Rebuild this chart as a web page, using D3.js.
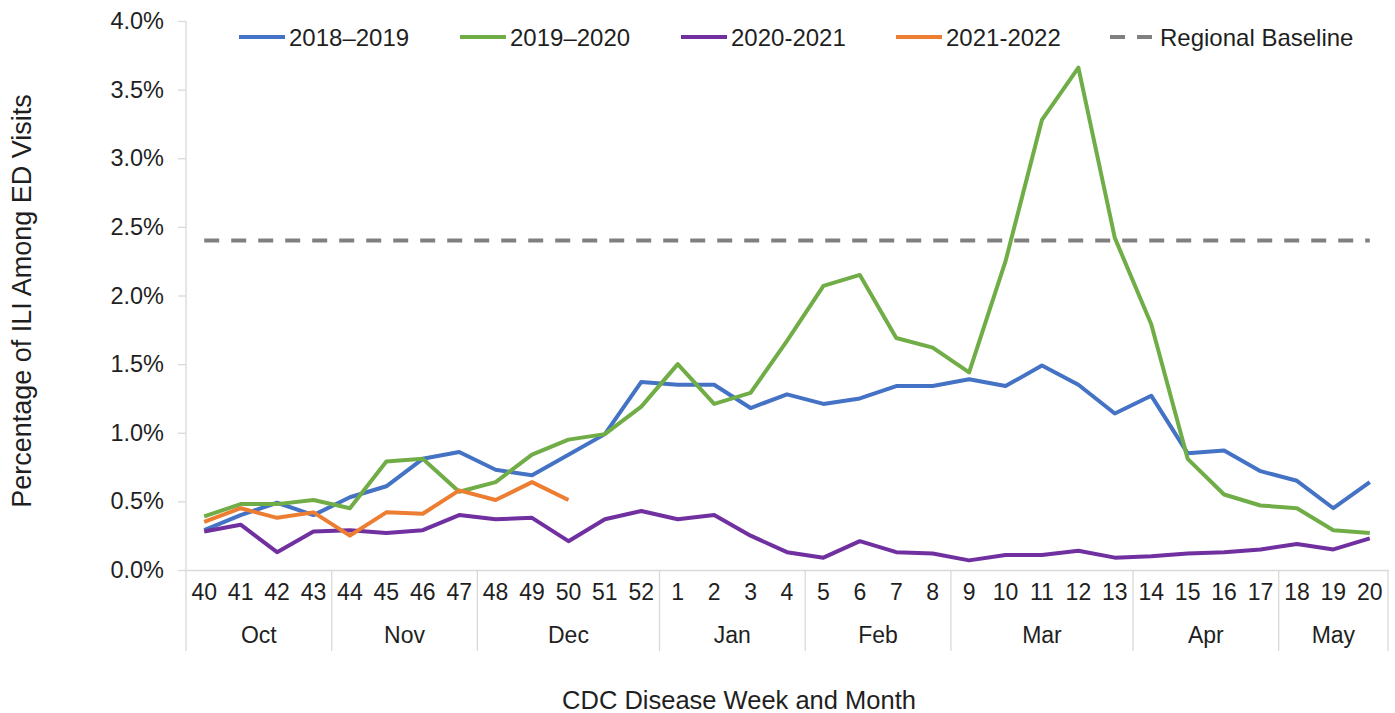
<!DOCTYPE html>
<html>
<head>
<meta charset="utf-8">
<script src="https://cdn.jsdelivr.net/npm/d3@7"></script>
<style>
  html, body { margin: 0; padding: 0; background: #fff; }
  svg { display: block; font-family: "Liberation Sans", Arial, sans-serif; }
</style>
</head>
<body>
<svg id="chart" width="1395" height="713"></svg>
<script>
// CDC disease weeks, October through May
const weeks = [40, 41, 42, 43, 44, 45, 46, 47, 48, 49, 50, 51, 52,
               1, 2, 3, 4, 5, 6, 7, 8, 9, 10, 11, 12, 13, 14, 15, 16, 17, 18, 19, 20];
// Month each week falls in
const weekMonths = ["Oct","Oct","Oct","Oct","Nov","Nov","Nov","Nov","Dec","Dec","Dec","Dec","Dec",
                    "Jan","Jan","Jan","Jan","Feb","Feb","Feb","Feb","Mar","Mar","Mar","Mar","Mar",
                    "Apr","Apr","Apr","Apr","May","May","May"];

// Percentage of ILI among ED visits, by season
const season2018 = [0.29, 0.40, 0.49, 0.40, 0.53, 0.61, 0.81, 0.86, 0.73, 0.69, 0.84, 0.99, 1.37,
                    1.35, 1.35, 1.18, 1.28, 1.21, 1.25, 1.34, 1.34, 1.39, 1.34, 1.49, 1.35, 1.14,
                    1.27, 0.85, 0.87, 0.72, 0.65, 0.45, 0.64];
const season2019 = [0.39, 0.48, 0.48, 0.51, 0.45, 0.79, 0.81, 0.57, 0.64, 0.84, 0.95, 0.99, 1.19,
                    1.50, 1.21, 1.29, 1.67, 2.07, 2.15, 1.69, 1.62, 1.44, 2.25, 3.28, 3.66, 2.42,
                    1.79, 0.81, 0.55, 0.47, 0.45, 0.29, 0.27];
const season2020 = [0.28, 0.33, 0.13, 0.28, 0.29, 0.27, 0.29, 0.40, 0.37, 0.38, 0.21, 0.37, 0.43,
                    0.37, 0.40, 0.25, 0.13, 0.09, 0.21, 0.13, 0.12, 0.07, 0.11, 0.11, 0.14, 0.09,
                    0.10, 0.12, 0.13, 0.15, 0.19, 0.15, 0.23];
const season2021 = [0.35, 0.45, 0.38, 0.42, 0.25, 0.42, 0.41, 0.58, 0.51, 0.64, 0.51];
const regionalBaseline = 2.4;

const seriesNames = ["2018\u20132019", "2019\u20132020", "2020-2021", "2021-2022"];
const yTicks = [0, 0.5, 1.0, 1.5, 2.0, 2.5, 3.0, 3.5, 4.0];

const colors = ["#4472C4", "#70AD47", "#7030A0", "#ED7D31"];
const baselineColor = "#808080";
const axisColor = "#D9D9D9";
const textColor = "#1f1f1f";

const svg = d3.select("#chart");
const plotLeft = 186, plotRight = 1388, plotTop = 21, plotBottom = 570;

const x = d3.scaleBand().domain(weeks.map(String)).range([plotLeft, plotRight]).padding(0);
const y = d3.scaleLinear().domain([0, 4]).range([plotBottom, plotTop]);
const cx = w => x(String(w)) + x.bandwidth() / 2;

// Y axis: line, short outer ticks and percentage labels
const yAxis = svg.append("g").attr("transform", `translate(${plotLeft},0)`)
  .call(d3.axisLeft(y).tickValues(yTicks).tickSize(8).tickPadding(14)
        .tickFormat(d => d.toFixed(1) + "%"));
yAxis.select(".domain").attr("stroke", axisColor).attr("stroke-width", 1.3)
  .attr("d", `M0,${plotTop}V${plotBottom}`);
yAxis.selectAll(".tick line").attr("stroke", axisColor).attr("stroke-width", 1.3);
yAxis.selectAll(".tick text").attr("fill", textColor).attr("font-size", 23.5)
  .attr("font-family", "Liberation Sans, Arial, sans-serif");

// X axis: week labels
const xAxis = svg.append("g").attr("transform", `translate(0,${plotBottom})`)
  .call(d3.axisBottom(x).tickSize(0).tickPadding(14));
xAxis.select(".domain").attr("stroke", axisColor).attr("stroke-width", 1.3);
xAxis.selectAll(".tick text").attr("fill", textColor).attr("font-size", 23)
  .attr("font-family", "Liberation Sans, Arial, sans-serif").attr("dy", "0.71em");

// Month groups with separators
const monthGroups = [];
weekMonths.forEach((m, i) => {
  const last = monthGroups[monthGroups.length - 1];
  if (last && last.month === m) last.end = weeks[i];
  else monthGroups.push({ month: m, start: weeks[i], end: weeks[i] });
});
const sepBottom = 651;
const sepXs = monthGroups.map(g => x(String(g.start))).concat([plotRight]);
svg.append("g").selectAll("line").data(sepXs).join("line")
  .attr("x1", d => d).attr("x2", d => d)
  .attr("y1", plotBottom).attr("y2", sepBottom)
  .attr("stroke", axisColor).attr("stroke-width", 1.3);
svg.append("g").selectAll("text").data(monthGroups).join("text")
  .attr("x", g => (x(String(g.start)) + x(String(g.end)) + x.bandwidth()) / 2)
  .attr("y", 643)
  .attr("text-anchor", "middle")
  .attr("fill", textColor).attr("font-size", 23)
  .text(g => g.month);

// Axis titles
svg.append("text")
  .attr("x", 739).attr("y", 709)
  .attr("text-anchor", "middle").attr("fill", textColor).attr("font-size", 25.5)
  .text("CDC Disease Week and Month");
svg.append("text")
  .attr("transform", "translate(31,301) rotate(-90)")
  .attr("text-anchor", "middle").attr("fill", textColor).attr("font-size", 27)
  .text("Percentage of ILI Among ED Visits");

// Regional baseline
const baselineData = weeks.map(w => ({ w, v: regionalBaseline }));
const line = d3.line().x(d => cx(d.w)).y(d => y(d.v));
svg.append("path").datum(baselineData)
  .attr("d", line).attr("fill", "none")
  .attr("stroke", baselineColor).attr("stroke-width", 4)
  .attr("stroke-dasharray", "15,12");

// Seasonal series
const allSeries = [season2018, season2019, season2020, season2021];
allSeries.forEach((vals, i) => {
  const pts = vals.map((v, j) => ({ w: weeks[j], v }));
  svg.append("path").datum(pts)
    .attr("d", line).attr("fill", "none")
    .attr("stroke", colors[i]).attr("stroke-width", 4)
    .attr("stroke-linejoin", "round");
});

// Legend
const legendItems = [
  { name: seriesNames[0], color: colors[0], x: 239, dash: null },
  { name: seriesNames[1], color: colors[1], x: 460, dash: null },
  { name: seriesNames[2], color: colors[2], x: 681, dash: null },
  { name: seriesNames[3], color: colors[3], x: 896, dash: null },
  { name: "Regional Baseline", color: baselineColor, x: 1110, dash: "15,12" }
];
const legendY = 37;
const lg = svg.append("g").selectAll("g").data(legendItems).join("g")
  .attr("transform", d => `translate(${d.x},${legendY})`);
lg.append("line").attr("x1", 0).attr("x2", 46).attr("y1", 0).attr("y2", 0)
  .attr("stroke", d => d.color).attr("stroke-width", 4)
  .attr("stroke-dasharray", d => d.dash);
lg.append("text").attr("x", 50).attr("y", 0).attr("dy", "0.36em")
  .attr("fill", textColor).attr("font-size", 24)
  .text(d => d.name);
</script>
</body>
</html>
